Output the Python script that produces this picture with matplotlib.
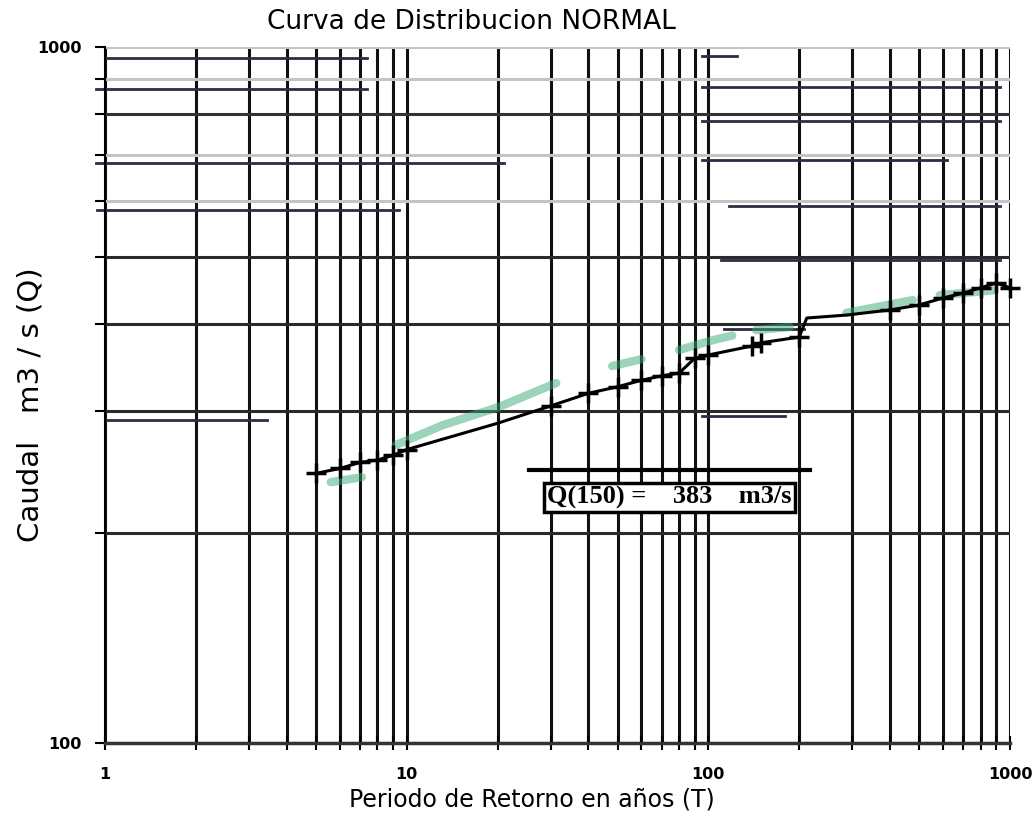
import numpy as np
import matplotlib
matplotlib.use('Agg')
from matplotlib import pyplot as plt

# puntos de la curva (T en años, Q en m3/s)
T_pts = [5, 6, 7, 8, 9, 10, 20, 30, 40, 50, 60, 70, 80, 90, 100, 140, 150, 200, 212, 287, 400, 500, 600, 700, 800, 900, 1000]
Q_pts = [244, 248, 253, 255, 259, 264, 288, 305, 318, 325, 332, 337, 340, 357, 361, 372, 376, 383, 408, 412, 419, 426, 436, 443, 451, 458, 451]
sin_marca = [6, 18, 19]  # puntos sin cruz

# trazo verde (resaltador) con huecos
T_verde = [5.6, 7.1, np.nan, 9.2, 13.1, 20.2, 31.3, np.nan, 48, 60, np.nan, 80, 103, 120, np.nan,
           144, 186, np.nan, 287, 476, np.nan, 585, 878]
Q_verde = [237, 241, np.nan, 268, 286, 304, 329, np.nan, 348, 356, np.nan, 367, 379, 385, np.nan,
           392, 396, np.nan, 415, 433, np.nan, 440, 447]

# lineas horizontales sueltas del escaneo: (Q, T_ini, T_fin)
lineas_Q = [964, 871, 681, 583, 291, 971, 876, 783, 688, 591, 494, 393, 295]
lineas_T0 = [1, 0.93, 0.93, 0.94, 1, 95.5, 95.5, 95.5, 95.5, 117, 110, 113, 95.5]
lineas_T1 = [7.36, 7.36, 21, 9.4, 3.43, 124, 926, 926, 619, 926, 926, 208, 179]

grid_T = [1, 2, 3, 4, 5, 6, 7, 8, 9, 10, 20, 30, 40, 50, 60, 70, 80, 90, 100,
          200, 300, 400, 500, 600, 700, 800, 900, 1000]
grid_Q = [100, 200, 300, 400, 500, 600, 700, 800, 900, 1000]
grid_Q_color = ['#222222', '#2a2a2a', '#2a2a2a', '#2a2a2a', '#2a2a2a', '#c4c4c4', '#c4c4c4', '#333333', '#c4c4c4', '#c4c4c4']

fig = plt.figure(figsize=(10.36, 8.21), dpi=100)
fig.set_facecolor('white')
ax = fig.add_axes([0.1014, 0.095, 0.8735, 0.8477])
ax.set_xscale('log')
ax.set_yscale('log')
ax.set_xlim(1, 1000)
ax.set_ylim(100, 1000)

for t in grid_T:
    ax.axvline(t, color='#111111', lw=2.2, zorder=1)
for q, c in zip(grid_Q, grid_Q_color):
    ax.axhline(q, color=c, lw=2.2, zorder=1)

for q, t0, t1 in zip(lineas_Q, lineas_T0, lineas_T1):
    ax.plot([t0, t1], [q, q], color='#2e2c40', lw=2, zorder=2, clip_on=False)

# linea sobre el recuadro
ax.plot([25.4, 217], [247, 247], color='black', lw=3, zorder=3)

ax.plot(T_verde, Q_verde, color='#3aa878', lw=6, alpha=0.5, zorder=3, solid_capstyle='round')

marcas = [i for i in range(len(T_pts)) if i not in sin_marca]
ax.plot(T_pts, Q_pts, color='black', lw=2.2, marker='+', ms=15, mew=2.5,
        markevery=marcas, zorder=4, clip_on=False)

ax.text(0.624, 0.353, 'Q(150) =    383    m3/s', transform=ax.transAxes,
        fontsize=19, fontweight='bold', family='Liberation Serif',
        ha='center', va='center', zorder=5,
        bbox=dict(boxstyle='square,pad=0.12', facecolor='white', edgecolor='black', lw=2.5))

ax.set_xticks([1, 10, 100, 1000])
ax.set_xticklabels(['1', '10', '100', '1000'])
ax.set_yticks([100, 1000])
ax.set_yticklabels(['100', '1000'])
ax.set_xticks(grid_T, minor=True)
ax.set_yticks(grid_Q, minor=True)
ax.xaxis.set_minor_formatter(matplotlib.ticker.NullFormatter())
ax.yaxis.set_minor_formatter(matplotlib.ticker.NullFormatter())
ax.tick_params(axis='x', which='both', direction='inout', length=10, width=1.5, pad=12)
ax.tick_params(axis='y', which='both', direction='out', length=7, width=1.5, pad=10)
for lab in ax.get_xticklabels() + ax.get_yticklabels():
    lab.set_fontweight('bold')
    lab.set_fontsize(11.5)

for s in ['top', 'right']:
    ax.spines[s].set_visible(False)
ax.spines['left'].set_linewidth(1.5)
ax.spines['bottom'].set_linewidth(2.5)
ax.spines['bottom'].set_color('#333333')

fig.text(0.455, 0.973, 'Curva de Distribucion NORMAL', fontsize=19, ha='center', va='center')
fig.text(0.513, 0.026, 'Periodo de Retorno en años (T)', fontsize=17, ha='center', va='center')
fig.text(0.029, 0.507, 'Caudal   m3 / s (Q)', fontsize=21, ha='center', va='center', rotation=90)

fig.savefig('out.png', dpi=100, facecolor='white')
